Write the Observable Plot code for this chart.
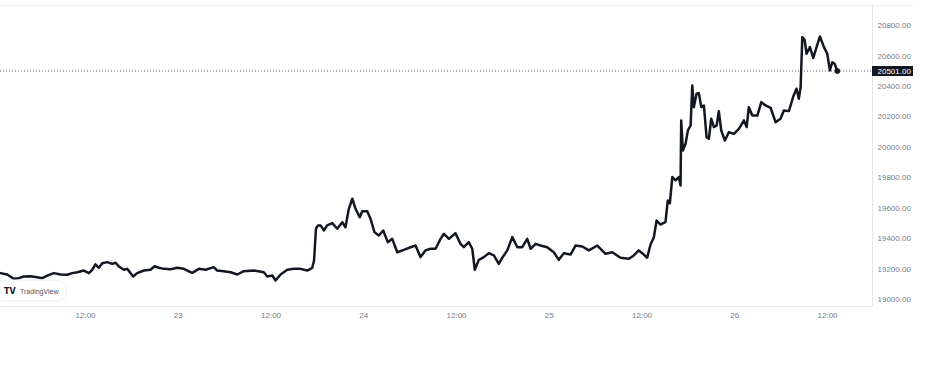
<!DOCTYPE html>
<html>
<head>
<meta charset="utf-8">
<script src="https://cdn.jsdelivr.net/npm/d3@7"></script>
<script src="https://cdn.jsdelivr.net/npm/@observablehq/plot@0.6"></script>
<style>
  html, body { margin: 0; padding: 0; background: #ffffff; }
  #chart { width: 936px; height: 366px; }
</style>
</head>
<body>
<div id="chart"></div>
<script>
// BTC/USD, 22–26 Oct 2022 (day hh:mm, UTC) and price
const times = [
"22 01:00","22 01:52","22 02:43","22 03:22","22 04:01","22 04:53","22 05:45","22 06:24","22 07:03","22 07:54",
"22 08:46","22 09:38","22 10:17","22 10:56","22 11:47","22 12:26","22 12:52","22 13:17","22 13:43","22 14:10",
"22 14:49","22 15:27","22 15:53","22 16:19","22 16:58","22 17:24","22 17:49","22 18:10","22 18:41","22 19:33",
"22 20:25","22 20:56","22 21:29","22 22:08","22 23:00","22 23:52","23 00:43","23 01:48","23 02:40","23 03:32",
"23 04:36","23 05:02","23 05:53","23 06:46","23 07:38","23 08:29","23 09:47","23 11:04","23 11:31","23 12:10",
"23 12:35","23 13:14","23 14:06","23 14:57","23 15:49","23 16:41","23 17:20","23 17:34","23 17:49","23 18:05",
"23 18:25","23 18:50","23 19:16","23 19:55","23 20:34","23 21:13","23 21:38","23 22:04","23 22:31","23 22:56",
"23 23:29","23 23:48","24 00:27","24 00:52","24 01:23","24 01:57","24 02:31","24 03:07","24 03:41","24 04:20",
"24 05:11","24 06:03","24 06:42","24 07:20","24 07:59","24 08:38","24 09:17","24 09:56","24 10:22","24 11:01",
"24 11:52","24 12:31","24 12:57","24 13:35","24 14:02","24 14:22","24 14:53","24 15:32","24 16:11","24 16:50",
"24 17:28","24 17:55","24 18:34","24 19:13","24 19:52","24 20:30","24 21:09","24 21:35","24 22:14","24 22:52",
"24 23:44","25 00:35","25 01:14","25 01:53","25 02:45","25 03:24","25 04:16","25 05:07","25 06:13","25 07:17",
"25 08:09","25 09:13","25 10:18","25 10:56","25 11:35","25 12:14","25 12:40","25 13:06","25 13:32","25 13:53",
"25 14:23","25 15:02","25 15:20","25 15:36","25 15:55","25 16:20","25 16:46","25 16:59","25 17:04","25 17:17",
"25 17:38","25 17:56","25 18:17","25 18:30","25 18:42","25 19:03","25 19:21","25 19:40","25 20:00","25 20:21",
"25 20:39","25 20:57","25 21:18","25 21:39","25 21:56","25 22:15","25 22:43","25 23:14","25 23:53","26 00:32",
"26 01:11","26 01:32","26 01:49","26 02:16","26 02:55","26 03:26","26 03:59","26 04:38","26 05:17","26 05:55",
"26 06:21","26 07:00","26 07:34","26 07:59","26 08:17","26 08:31","26 08:44","26 09:02","26 09:17","26 09:43",
"26 10:09","26 10:35","26 11:01","26 11:32","26 11:58","26 12:18","26 12:37","26 12:55","26 13:16"
];
const prices = [
19175,19166,19138,19142,19153,19155,19148,19142,19159,19175,
19166,19164,19175,19181,19192,19175,19197,19232,19210,19240,
19247,19236,19243,19219,19197,19203,19175,19153,19175,19192,
19197,19220,19210,19203,19201,19210,19203,19177,19203,19197,
19214,19192,19188,19181,19166,19188,19192,19181,19153,19159,
19127,19166,19197,19203,19203,19192,19210,19258,19468,19488,
19488,19455,19488,19503,19466,19509,19476,19597,19663,19597,
19542,19581,19581,19532,19444,19422,19455,19378,19400,19312,
19328,19345,19356,19280,19324,19335,19335,19400,19433,19400,
19437,19367,19345,19378,19335,19197,19262,19280,19306,19291,
19236,19276,19324,19411,19345,19345,19400,19335,19367,19356,
19345,19312,19262,19306,19297,19356,19350,19324,19356,19302,
19312,19276,19269,19291,19324,19297,19276,19363,19411,19520,
19494,19509,19652,19634,19805,19783,19805,19750,20177,19980,
20024,20111,20144,20406,20264,20352,20356,20264,20275,20067,
20056,20188,20133,20144,20238,20111,20045,20100,20089,20122,
20177,20133,20264,20209,20209,20297,20275,20260,20165,20188,
20242,20238,20334,20385,20319,20395,20723,20706,20614,20658,
20588,20658,20728,20658,20614,20505,20559,20549,20501
];
const lastPrice = 20501;
const yTickValues = [19000, 19200, 19400, 19600, 19800, 20000, 20200, 20400, 20600, 20800];
const xTickTimes = ["22 12:00","23 00:00","23 12:00","24 00:00","24 12:00","25 00:00","25 12:00","26 00:00","26 12:00"];
const xTickLabels = ["12:00","23","12:00","24","12:00","25","12:00","26","12:00"];
const xRange = ["22 01:00", "26 17:49"];
const yRange = [18956, 20931];

const parse = d3.utcParse("%Y-%m-%d %H:%M");
const toDate = s => parse("2022-10-" + s);
const data = times.map((t, i) => ({date: toDate(t), price: prices[i]}));
const xTicks = xTickTimes.map(toDate);
const labelByTime = new Map(xTicks.map((d, i) => [+d, xTickLabels[i]]));
const last = data[data.length - 1];

const chart = Plot.plot({
  width: 936,
  height: 366,
  marginLeft: 0,
  marginRight: 64,
  marginTop: 5,
  marginBottom: 60,
  style: {
    fontFamily: "'Liberation Sans', Roboto, sans-serif",
    fontSize: "8px",
    color: "#787b86",
    background: "#ffffff"
  },
  x: {
    type: "utc",
    domain: xRange.map(toDate),
    ticks: xTicks,
    tickFormat: d => labelByTime.get(+d),
    tickSize: 0,
    tickPadding: 6,
    label: null
  },
  y: {
    axis: "right",
    domain: yRange,
    ticks: yTickValues,
    tickFormat: d => d.toFixed(2),
    tickSize: 0,
    tickPadding: 5,
    label: null
  },
  marks: [
    Plot.ruleY([yRange[1]], {stroke: "#eef0f4", strokeWidth: 1.5, insetRight: -41}),
    Plot.ruleY([yRange[0]], {stroke: "#e4e6ec", strokeWidth: 1}),
    Plot.ruleX([toDate(xRange[1])], {stroke: "#e4e6ec", strokeWidth: 1}),
    Plot.ruleY([lastPrice], {stroke: "#5d606b", strokeWidth: 1, strokeDasharray: "1,2"}),
    Plot.line(data, {x: "date", y: "price", stroke: "#131722", strokeWidth: 2.5, strokeLinejoin: "round", strokeLinecap: "round"}),
    Plot.dot([last], {x: "date", y: "price", r: 2.8, fill: "#131722", stroke: "none"}),
    Plot.ruleY([lastPrice], {stroke: "#131722", strokeWidth: 10, insetLeft: 872, insetRight: -41}),
    Plot.text([lastPrice], {y: d => d, frameAnchor: "right", dx: 5, textAnchor: "start", fill: "#ffffff", text: d => d.toFixed(2), fontSize: 8})
  ]
});

document.getElementById("chart").appendChild(chart);

// TradingView watermark badge
const svg = d3.select(chart);
const g = svg.append("g").attr("text-anchor", "start");
g.append("rect").attr("x", -6).attr("y", 280).attr("width", 73).attr("height", 21).attr("rx", 10.5)
  .attr("fill", "#ffffff").attr("stroke", "#eceef2").attr("stroke-width", 1);
g.append("text").attr("x", 4).attr("y", 293.5).attr("font-size", 8).attr("font-weight", "bold")
  .attr("text-anchor", "start")
  .attr("fill", "#131722").attr("font-family", "'DejaVu Sans', sans-serif").text("TV");
g.append("text").attr("x", 20).attr("y", 293.5).attr("font-size", 7)
  .attr("text-anchor", "start")
  .attr("fill", "#50535e").text("TradingView");
</script>
</body>
</html>
